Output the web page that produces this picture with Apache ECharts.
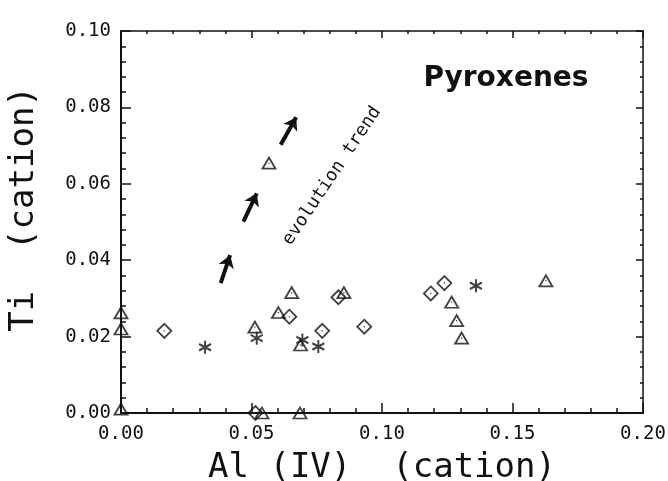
<!DOCTYPE html>
<html>
<head>
<meta charset="utf-8">
<script src="https://cdn.jsdelivr.net/npm/echarts@6/dist/echarts.min.js"></script>
<style>
html,body{margin:0;padding:0;background:#fff;}
#chart{width:668px;height:481px;}
</style>
</head>
<body>
<div id="chart"></div>
<script>
// ---- data (Al(IV) cation, Ti cation) ----
var diamondPoints = [
  [0.0166, 0.0215], [0.0645, 0.0252], [0.0833, 0.0303], [0.0771, 0.0215],
  [0.0932, 0.0226], [0.1187, 0.0313], [0.1239, 0.0340], [0.0515, 0.0]
];
var trianglePoints = [
  [0.0513, 0.0225], [0.0603, 0.0263], [0.0654, 0.0315], [0.0854, 0.0315],
  [0.0688, 0.0178], [0.0567, 0.0654], [0.1267, 0.0290], [0.1286, 0.0242],
  [0.1305, 0.0196], [0.1628, 0.0346], [0.0540, 0.0], [0.0686, 0.0],
  [0.0, 0.0220], [0.0, 0.0262], [0.0, 0.0010]
];
var starPoints = [
  [0.0322, 0.0172], [0.0520, 0.0196], [0.0695, 0.0191], [0.0756, 0.0174], [0.1360, 0.0333]
];
var trendArrows = [
  [[0.0382, 0.0340], [0.0418, 0.0413]],
  [[0.0469, 0.0501], [0.0520, 0.0575]],
  [[0.0612, 0.0702], [0.0671, 0.0774]]
];
var xTicks = [0, 0.05, 0.10, 0.15, 0.20];
var yTicks = [0, 0.02, 0.04, 0.06, 0.08, 0.10];
var xTitle = 'Al (IV)  (cation)';
var yTitle = 'Ti  (cation)';
var panelTitle = 'Pyroxenes';
var trendLabel = 'evolution trend';

var INK = '#111';
var MONO = '"DejaVu Sans Mono", "Liberation Mono", monospace';

function axisBase(pos, isX, showLabels, ticks) {
  var a = {
    type: 'value',
    position: pos,
    min: ticks[0],
    max: ticks[ticks.length - 1],
    interval: ticks[1] - ticks[0],
    splitNumber: ticks.length - 1,
    axisLine: { show: true, onZero: false, lineStyle: { color: INK, width: showLabels ? 2 : 1.5 } },
    axisTick: { show: true, inside: true, length: showLabels ? 10 : 7, lineStyle: { color: INK, width: 1.5 } },
    minorTick: { show: true, splitNumber: 5, length: showLabels ? 5 : 3, lineStyle: { color: INK, width: 1.5 } },
    splitLine: { show: false },
    minorSplitLine: { show: false },
    axisLabel: {
      show: showLabels,
      color: INK,
      fontFamily: MONO,
      fontSize: 19,
      margin: isX ? 12 : 10,
      formatter: function (v) { return v.toFixed(2); }
    }
  };
  return a;
}

var xb = axisBase('bottom', true, true, xTicks);
xb.name = xTitle;
xb.nameLocation = 'middle';
xb.nameGap = 38;
xb.nameTextStyle = { fontFamily: MONO, fontSize: 34, color: INK, padding: [0, 0, 0, 0] };
var xt = axisBase('top', true, false, xTicks);
var yl = axisBase('left', false, true, yTicks);
yl.name = yTitle;
yl.nameLocation = 'middle';
yl.nameGap = 80;
yl.nameTextStyle = { fontFamily: MONO, fontSize: 34, color: INK, padding: [0, 0, 0, 26] };
var yr = axisBase('right', false, false, yTicks);

var openStyle = { color: 'rgba(0,0,0,0)', borderColor: INK, borderWidth: 1.8 };
var starPath = 'path://M0,-10L0,10M-8.66,-5L8.66,5M-8.66,5L8.66,-5';

var chart = echarts.init(document.getElementById('chart'), null, { renderer: 'canvas' });
chart.setOption({
  animation: false,
  backgroundColor: '#fff',
  grid: { left: 121, right: 25, top: 31, bottom: 68, containLabel: false, outerBoundsMode: 'none' },
  xAxis: [xb, xt],
  yAxis: [yl, yr],
  series: [
    {
      type: 'scatter', name: 'diamond', xAxisIndex: 0, yAxisIndex: 0,
      data: diamondPoints, symbol: 'diamond', symbolSize: [14, 14],
      itemStyle: openStyle, clip: false, z: 3
    },
    {
      type: 'scatter', name: 'triangle', xAxisIndex: 0, yAxisIndex: 0,
      data: trianglePoints, symbol: 'triangle', symbolSize: [13, 11],
      itemStyle: openStyle, clip: false, z: 3
    },
    {
      type: 'scatter', name: 'dots', xAxisIndex: 0, yAxisIndex: 0,
      data: diamondPoints.concat(trianglePoints), symbol: 'circle', symbolSize: 1.5,
      itemStyle: { color: INK }, clip: false, z: 3
    },
    {
      type: 'scatter', name: 'star', xAxisIndex: 0, yAxisIndex: 0,
      data: starPoints, symbol: starPath, symbolSize: [12, 13],
      itemStyle: { color: 'rgba(0,0,0,0)', borderColor: INK, borderWidth: 2 }, clip: false, z: 3
    },
    {
      type: 'lines', coordinateSystem: 'cartesian2d', xAxisIndex: 0, yAxisIndex: 0,
      data: trendArrows.map(function (c) { return { coords: c }; }),
      symbol: ['none', 'arrow'], symbolSize: 12,
      lineStyle: { color: INK, width: 4, opacity: 1, curveness: 0 },
      z: 4
    }
  ],
  graphic: [
    {
      type: 'text', x: 506, y: 79,
      style: { text: panelTitle, fontFamily: '"DejaVu Sans", sans-serif', fontWeight: 'bold', fontSize: 28,
               fill: INK, align: 'center', verticalAlign: 'middle' }
    },
    {
      type: 'text', x: 332, y: 176, rotation: 0.98,
      style: { text: trendLabel, fontFamily: MONO, fontSize: 18, fill: INK,
               align: 'center', verticalAlign: 'middle' }
    }
  ]
});
</script>
</body>
</html>
